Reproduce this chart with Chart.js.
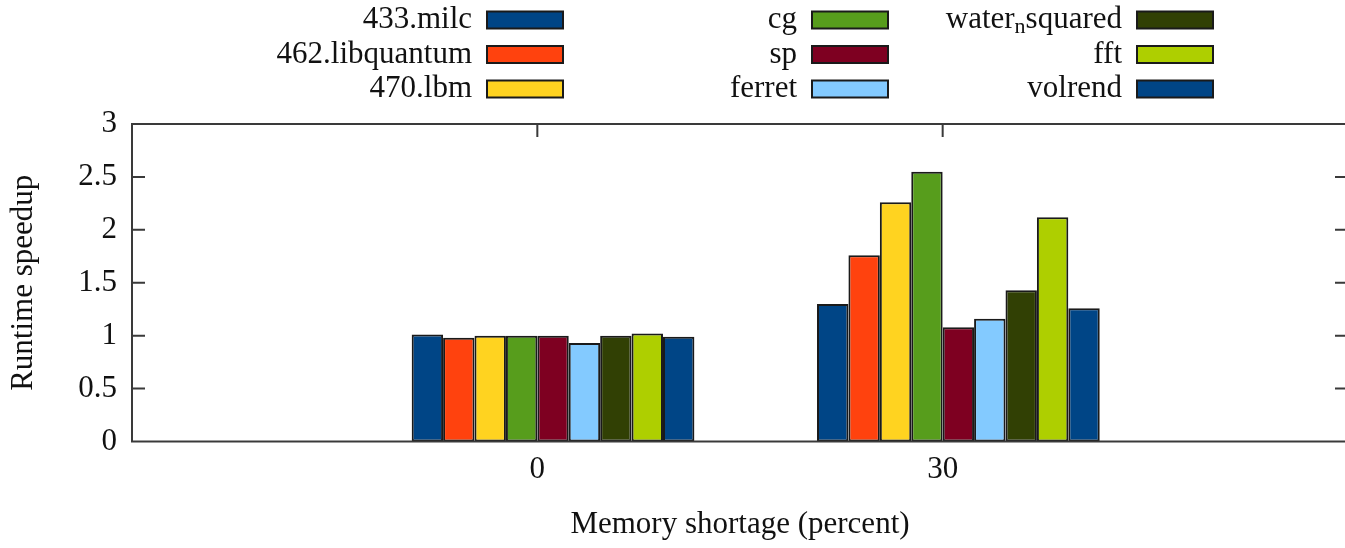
<!DOCTYPE html>
<html>
<head>
<meta charset="utf-8">
<script src="https://cdn.jsdelivr.net/npm/chart.js@4/dist/chart.umd.min.js"></script>
<style>
  html, body { margin: 0; padding: 0; background: #fff; overflow: hidden; }
  #wrap { width: 1349px; height: 548px; }
</style>
</head>
<body>
<div id="wrap"><canvas id="speedup" width="1349" height="548"></canvas></div>
<script>
// memory shortage categories (percent)
const categories = ['0', '30'];
const benchmarks = ['433.milc', '462.libquantum', '470.lbm', 'cg', 'sp', 'ferret', 'water_nsquared', 'fft', 'volrend'];

// runtime speedup per benchmark, one value per category
const milc       = [1.01, 1.30];
const libquantum = [0.98, 1.76];
const lbm        = [1.00, 2.26];
const cg         = [1.00, 2.55];
const sp         = [1.00, 1.08];
const ferret     = [0.93, 1.16];
const water      = [1.00, 1.43];
const fft        = [1.02, 2.12];
const volrend    = [0.99, 1.26];

const yTicks = [0, 0.5, 1, 1.5, 2, 2.5, 3];

const colors = ['#004586', '#ff420e', '#ffd320', '#579d1c', '#7e0021', '#83caff', '#314004', '#aecf00', '#004586'];
const series = [milc, libquantum, lbm, cg, sp, ferret, water, fft, volrend];

const FONT = '"Liberation Serif", "Times New Roman", serif';
const FSIZE = 31;

// empty slots on both sides so the two groups sit at 1/3 and 2/3 of the width
const labels = ['', ...categories, ''];

// an empty first dataset shifts the visible bars half a bar to the right, like gnuplot does
const datasets = [{
    label: '',
    data: labels.map(() => null),
    backgroundColor: 'rgba(0,0,0,0)'
}];
series.forEach((vals, i) => {
    datasets.push({
        label: benchmarks[i],
        data: [null, ...vals, null],
        backgroundColor: colors[i],
        borderColor: '#1a1a1a',
        borderWidth: 2,
        borderSkipped: false
    });
});

function drawLabel(ctx, text, right, cy) {
    ctx.textBaseline = 'middle';
    ctx.textAlign = 'left';
    const main = FSIZE + 'px ' + FONT;
    const small = Math.round(FSIZE * 0.7) + 'px ' + FONT;
    const parts = text.split('_');
    if (parts.length === 1) {
        ctx.font = main;
        ctx.textAlign = 'right';
        ctx.fillText(text, right, cy);
        return;
    }
    const sub = parts[1][0];
    const rest = parts[1].slice(1);
    ctx.font = main;
    const w0 = ctx.measureText(parts[0]).width;
    const w2 = ctx.measureText(rest).width;
    ctx.font = small;
    const w1 = ctx.measureText(sub).width;
    let x = right - (w0 + w1 + w2);
    ctx.font = main;
    ctx.fillText(parts[0], x, cy);
    x += w0;
    ctx.font = small;
    ctx.fillText(sub, x, cy + FSIZE * 0.22);
    x += w1;
    ctx.font = main;
    ctx.fillText(rest, x, cy);
}

const legendPlugin = {
    id: 'gnuLegend',
    afterDraw(chart) {
        const ctx = chart.ctx;
        const boxLeft = [487, 812, 1137];
        const rowY = [20, 54.5, 89];
        ctx.save();
        benchmarks.forEach((name, i) => {
            const col = Math.floor(i / 3), row = i % 3;
            const bx = boxLeft[col], cy = rowY[row];
            ctx.fillStyle = colors[i];
            ctx.fillRect(bx, cy - 8.5, 76, 17);
            ctx.strokeStyle = '#1a1a1a';
            ctx.lineWidth = 2;
            ctx.strokeRect(bx, cy - 8.5, 76, 17);
            ctx.fillStyle = '#111';
            drawLabel(ctx, name, bx - 15, cy);
        });
        ctx.restore();
    }
};

const framePlugin = {
    id: 'frame',
    afterDatasetsDraw(chart) {
        const {ctx, chartArea: a, scales: {x, y}} = chart;
        ctx.save();
        ctx.strokeStyle = '#3a3a3a';
        ctx.lineWidth = 2;
        ctx.strokeRect(a.left, a.top, a.right - a.left, a.bottom - a.top);
        ctx.beginPath();
        yTicks.forEach(v => {
            if (v <= 0 || v >= 3) return;
            const py = y.getPixelForValue(v);
            ctx.moveTo(a.left, py); ctx.lineTo(a.left + 13, py);
            ctx.moveTo(a.right, py); ctx.lineTo(a.right - 13, py);
        });
        categories.forEach(c => {
            const px = x.getPixelForValue(labels.indexOf(c));
            ctx.moveTo(px, a.top); ctx.lineTo(px, a.top + 13);
        });
        ctx.stroke();
        ctx.restore();
    }
};

new Chart(document.getElementById('speedup'), {
    type: 'bar',
    data: { labels: labels, datasets: datasets },
    options: {
        responsive: false,
        animation: false,
        devicePixelRatio: 1,
        layout: { padding: { top: 124, right: 1, left: 0, bottom: 0 } },
        datasets: {
            bar: { categoryPercentage: 0.775, barPercentage: 1.0 }
        },
        plugins: {
            legend: { display: false },
            tooltip: { enabled: false }
        },
        scales: {
            x: {
                offset: false,
                grid: { display: false, drawTicks: false },
                border: { display: false },
                ticks: {
                    color: '#111',
                    font: { family: FONT, size: FSIZE },
                    padding: 10,
                    autoSkip: false,
                    maxRotation: 0
                },
                title: {
                    display: true,
                    text: 'Memory shortage (percent)',
                    color: '#111',
                    font: { family: FONT, size: FSIZE },
                    padding: { top: 0, bottom: 5 }
                },
                afterFit(scale) {
                    scale.height = 106.5;
                    scale.paddingLeft = 0;
                    scale.paddingRight = 0;
                }
            },
            y: {
                min: 0,
                max: 3,
                grid: { display: false, drawTicks: false },
                border: { display: false },
                afterBuildTicks(scale) { scale.ticks = yTicks.map(v => ({ value: v })); },
                ticks: {
                    color: '#111',
                    font: { family: FONT, size: FSIZE },
                    padding: 15,
                    callback: v => String(v)
                },
                title: {
                    display: true,
                    text: 'Runtime speedup',
                    color: '#111',
                    font: { family: FONT, size: FSIZE },
                    padding: { top: 5, bottom: 0 }
                },
                afterFit(scale) { scale.width = 132; }
            }
        }
    },
    plugins: [framePlugin, legendPlugin]
});
</script>
</body>
</html>
